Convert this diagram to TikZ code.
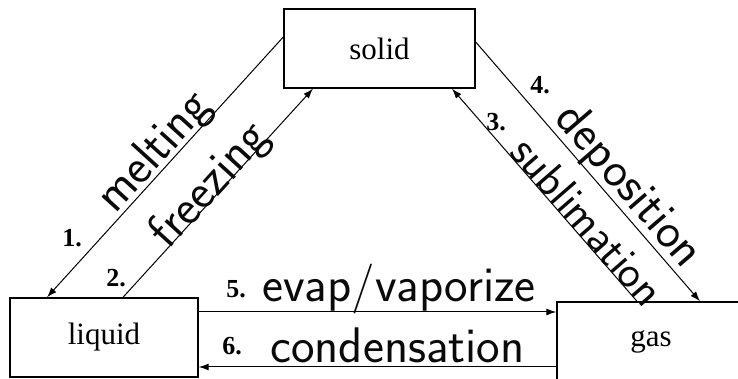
\documentclass[tikz,border=0pt]{standalone}
\usepackage{fontspec}
\setmainfont{Liberation Serif}
\usetikzlibrary{
  arrows.meta,
  positioning,
  calc
}
\definecolor{linecolor}{RGB}{0, 0, 0}
\definecolor{inkcolor}{RGB}{10, 10, 10}
\tikzset{
statebox/.style={
  draw=linecolor,
  line width=1.4pt,
  minimum width=188pt,
  minimum height=79pt,
  inner sep=0pt,
  font=\fontsize{31}{33}\selectfont
},
arrow/.style={
  -{Latex[length=10pt,width=7pt]},
  line width=1pt,
  draw=linecolor
},
handtext/.style={
  font=\sffamily\fontsize{50}{50}\selectfont,
  text=inkcolor,
  inner sep=1pt
},
numlabel/.style={
  font=\bfseries\fontsize{26}{26}\selectfont,
  inner sep=0pt
}
}

\begin{document}
\begin{tikzpicture}[x=1pt,y=1pt]
  \useasboundingbox (0,0) rectangle (738,379);
  % states
  \node[statebox, minimum width=191pt] (solid) at (379.5,330.5) {solid};
  \node[statebox] (liquid) at (104,41.5) {liquid};
  \node[statebox] (gas) at (651,37.5) {gas};

  % solid <-> liquid
  \draw[arrow] ([yshift=11.5pt]solid.west) -- ([xshift=-57pt]liquid.north)
    node[handtext, sloped, anchor=base, pos=0.49, yshift=5pt] (melt) {melting};
  \draw[arrow] ([xshift=19pt]liquid.north) -- ([xshift=-66.5pt]solid.south)
    node[handtext, sloped, anchor=mid, pos=0.5] (freeze) {freezing};

  % solid <-> gas
  \draw[arrow] ([xshift=-14pt]gas.north) -- ([xshift=72.5pt]solid.south)
    node[handtext, sloped, anchor=base, pos=0.33, font=\sffamily\fontsize{46}{46}\selectfont] (subl) {sublimation};
  \draw[arrow] ([yshift=6.5pt]solid.east) -- ([xshift=49pt]gas.north)
    node[handtext, sloped, anchor=base, pos=0.61, yshift=8pt] (depo) {deposition};

  % liquid <-> gas
  \coordinate (evapstart) at ([yshift=25.5pt]liquid.east);
  \coordinate (condstart) at ([yshift=-25.5pt]gas.west);
  \draw[arrow] (evapstart) -- (evapstart -| gas.west)
    node[handtext, anchor=base, pos=0.56, yshift=10pt] (evap) {evap/vaporize};
  \draw[arrow] (condstart) -- (condstart -| liquid.east)
    node[handtext, anchor=base, pos=0.444, yshift=4pt] (cond) {condensation};

  % step numbers
  \node[numlabel] (n1) at (72,141) {1.};
  \node[numlabel] (n2) at (116,101) {2.};
  \node[numlabel] (n3) at (496,257) {3.};
  \node[numlabel] (n4) at (540,294) {4.};
  \node[numlabel] (n5) at (236,89.5) {5.};
  \node[numlabel] (n6) at (232,32.5) {6.};
\end{tikzpicture}
\end{document}
